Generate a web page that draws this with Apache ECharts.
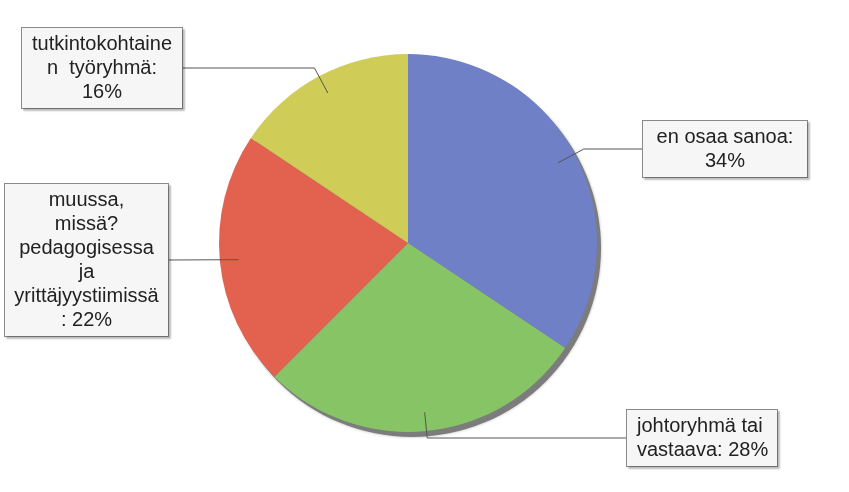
<!DOCTYPE html>
<html><head><meta charset="utf-8">
<script src="https://cdn.jsdelivr.net/npm/echarts@6/dist/echarts.min.js"></script>
<style>html,body{margin:0;padding:0;background:#fff}#c{width:849px;height:492px}</style>
</head><body><div id="c"></div>
<script>
// ---- data ----
const categories = ["en osaa sanoa", "johtoryhmä tai vastaava", "muussa, missä? pedagogisessa ja yrittäjyystiimissä", "tutkintokohtainen työryhmä"];
const values = [11, 9, 7, 5];
const labelTexts = ["en osaa sanoa:\n", "johtoryhmä tai\nvastaava: ", "muussa,\nmissä?\npedagogisessa\nja\nyrittäjyystiimissä\n: ", "tutkintokohtaine\nn  työryhmä:\n"];

// ---- styles / layout ----
const colors = ['#6f80c6', '#86c466', '#e3624f', '#cfcc58'];
const CENTER = [408, 243], RADIUS = 189;
const boxLayout = [
  {x: 725, y: 149, w: 164, padH: 8, align: 'center'},
  {x: 627, y: 438, w: 150, padH: 10, align: 'left'},
  {x: 86.5, y: 260, w: 163, padH: 6, align: 'center'},
  {x: 102, y: 68, w: 160, padH: 8, align: 'center'}
];

const total = values.reduce((a, b) => a + b, 0);
const midAngles = [];
let acc = 0;
values.forEach(v => { midAngles.push((acc + v / 2) / total * 2 * Math.PI); acc += v; });

const chart = echarts.init(document.getElementById('c'), null, {renderer: 'canvas'});
chart.setOption({
  animation: false,
  backgroundColor: '#ffffff',
  series: [
    {
      type: 'pie',
      z: 1,
      silent: true,
      center: [CENTER[0] + 4, CENTER[1] + 5],
      radius: RADIUS,
      label: {show: false},
      labelLine: {show: false},
      emphasis: {disabled: true},
      itemStyle: {color: '#7c7c7c', shadowBlur: 3, shadowColor: 'rgba(0,0,0,0.3)'},
      data: [{value: total, name: 'shadow'}]
    },
    {
      type: 'pie',
      z: 2,
      center: CENTER,
      radius: RADIUS,
      startAngle: 90,
      clockwise: true,
      emphasis: {disabled: true},
      itemStyle: {borderWidth: 0},
      label: {show: false},
      labelLine: {show: false},
      data: categories.map((c, i) => ({name: c, value: values[i], itemStyle: {color: colors[i]}}))
    },
    {
      type: 'pie',
      z: 3,
      silent: true,
      center: CENTER,
      radius: RADIUS,
      startAngle: 90,
      clockwise: true,
      avoidLabelOverlap: false,
      emphasis: {disabled: true},
      itemStyle: {borderWidth: 0, color: 'rgba(0,0,0,0)'},
      data: categories.map((c, i) => ({
        name: c,
        value: values[i],
        label: {width: boxLayout[i].w - 2 * boxLayout[i].padH, padding: [4, boxLayout[i].padH], align: boxLayout[i].align}
      })),
      label: {
        show: true,
        position: 'outside',
        formatter: p => labelTexts[p.dataIndex] + Math.round(p.percent) + '%',
        fontFamily: '"Liberation Sans", Arial, sans-serif',
        fontSize: 20,
        lineHeight: 24,
        color: '#222222',
        backgroundColor: '#f6f6f6',
        borderColor: '#8a8a8a',
        borderWidth: 1,
        overflow: 'none',
        shadowColor: 'rgba(0,0,0,0.2)',
        shadowBlur: 2,
        shadowOffsetX: 2,
        shadowOffsetY: 2
      },
      labelLine: {show: true, showAbove: true, length: 10, length2: 10, lineStyle: {color: '#555555', width: 1}},
      labelLayout: function (params) {
        const i = params.dataIndex;
        const b = boxLayout[i];
        const a = midAngles[i];
        const dx = Math.sin(a), dy = -Math.cos(a);
        const ax = CENTER[0] + 0.9 * RADIUS * dx, ay = CENTER[1] + 0.9 * RADIUS * dy;
        let t = Math.abs(dy) > 0.2 ? (b.y - ay) / dy : 0;
        t = Math.max(0, Math.min(t, 40));
        const ex = ax + t * dx, ey = ay + t * dy;
        const left = b.align === 'left' ? b.x : b.x - b.w / 2;
        const edgeX = ax > left + b.w ? left + b.w : left;
        return {
          x: b.x, y: b.y, align: b.align, verticalAlign: 'middle',
          labelLinePoints: [[ax, ay], [ex, ey], [edgeX, b.y]]
        };
      }
    }
  ]
});
</script>
</body></html>
